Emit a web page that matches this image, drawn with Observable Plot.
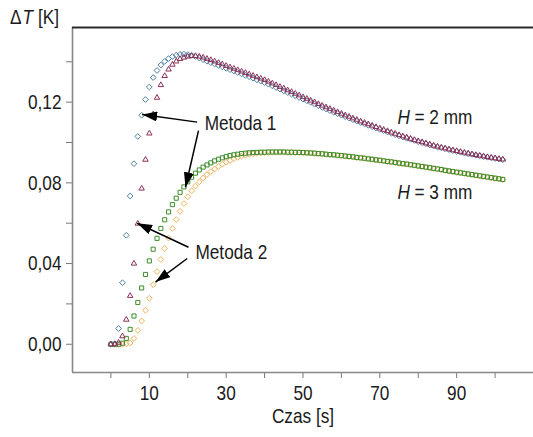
<!DOCTYPE html>
<html><head><meta charset="utf-8">
<script src="https://cdn.jsdelivr.net/npm/d3@7"></script>
<script src="https://cdn.jsdelivr.net/npm/@observablehq/plot@0.6"></script>
<style>body{margin:0;background:#fff;}</style>
</head><body><div id="chart"></div>
<script>
const time = [0,1,2,3,4,5,6,7,8,9,10,11,12,13,14,15,16,17,18,19,20,21,22,23,24,25,26,27,28,29,30,31,32,33,34,35,36,37,38,39,40,41,42,43,44,45,46,47,48,49,50,51,52,53,54,55,56,57,58,59,60,61,62,63,64,65,66,67,68,69,70,71,72,73,74,75,76,77,78,79,80,81,82,83,84,85,86,87,88,89,90,91,92,93,94,95,96,97,98,99,100,101,102];

// H = 2 mm, blue diamonds
const h2Diamond = [0,0.0003,0.0078,0.0305,0.0540,0.0735,0.0895,0.1030,0.1135,0.1213,0.1275,0.1322,0.1357,0.1384,0.1402,0.1416,0.1426,0.1433,0.1437,0.1438,0.1436,0.1432,0.1426,0.1419,0.1411,0.1403,0.1396,0.1389,0.1382,0.1375,0.1368,0.1361,0.1354,0.1347,0.1340,0.1333,0.1326,0.1319,0.1311,0.1304,0.1297,0.1289,0.1281,0.1272,0.1264,0.1256,0.1248,0.1240,0.1231,0.1223,0.1215,0.1207,0.1199,0.1190,0.1182,0.1174,0.1166,0.1158,0.1150,0.1143,0.1135,0.1128,0.1121,0.1113,0.1106,0.1099,0.1092,0.1085,0.1078,0.1072,0.1065,0.1059,0.1052,0.1046,0.1039,0.1033,0.1027,0.1021,0.1016,0.1010,0.1004,0.0999,0.0994,0.0988,0.0983,0.0978,0.0974,0.0969,0.0965,0.0960,0.0956,0.0952,0.0948,0.0944,0.0941,0.0937,0.0934,0.0930,0.0927,0.0924,0.0921,0.0918,0.0915];

// H = 2 mm, maroon triangles
const h2Triangle = [0,0,0.0008,0.0040,0.0122,0.0240,0.0400,0.0598,0.0772,0.0915,0.1045,0.1140,0.1222,0.1285,0.1330,0.1362,0.1386,0.1402,0.1414,0.1421,0.1426,0.1429,0.1429,0.1426,0.1421,0.1415,0.1409,0.1402,0.1395,0.1388,0.1380,0.1373,0.1366,0.1359,0.1352,0.1345,0.1338,0.1331,0.1324,0.1317,0.1310,0.1302,0.1293,0.1285,0.1276,0.1268,0.1259,0.1251,0.1242,0.1234,0.1225,0.1217,0.1208,0.1200,0.1191,0.1183,0.1175,0.1167,0.1159,0.1151,0.1143,0.1135,0.1128,0.1120,0.1113,0.1105,0.1098,0.1091,0.1084,0.1077,0.1070,0.1063,0.1057,0.1050,0.1044,0.1037,0.1031,0.1025,0.1019,0.1013,0.1007,0.1002,0.0996,0.0991,0.0985,0.0980,0.0975,0.0971,0.0966,0.0962,0.0958,0.0954,0.0950,0.0946,0.0942,0.0938,0.0935,0.0932,0.0928,0.0925,0.0922,0.0919,0.0916];

// H = 3 mm, green squares
const h3Square = [0,0,0,0.0005,0.0029,0.0074,0.0140,0.0207,0.0279,0.0346,0.0413,0.0471,0.0525,0.0574,0.0617,0.0656,0.0692,0.0724,0.0753,0.0780,0.0805,0.0828,0.0848,0.0864,0.0878,0.0889,0.0899,0.0909,0.0917,0.0924,0.0930,0.0935,0.0939,0.0942,0.0945,0.0947,0.0949,0.0950,0.0951,0.0952,0.0952,0.0953,0.0953,0.0953,0.0953,0.0953,0.0952,0.0952,0.0951,0.0951,0.0950,0.0949,0.0948,0.0947,0.0945,0.0944,0.0942,0.0940,0.0939,0.0937,0.0935,0.0933,0.0931,0.0929,0.0926,0.0924,0.0922,0.0919,0.0917,0.0914,0.0912,0.0909,0.0906,0.0904,0.0901,0.0898,0.0895,0.0893,0.0890,0.0887,0.0884,0.0881,0.0878,0.0875,0.0872,0.0869,0.0866,0.0862,0.0859,0.0856,0.0853,0.0850,0.0847,0.0844,0.0841,0.0838,0.0835,0.0832,0.0829,0.0826,0.0823,0.0820,0.0817];

// H = 3 mm, orange diamonds
const h3Diamond = [0,0,0,0,0.0002,0.0006,0.0029,0.0069,0.0115,0.0168,0.0228,0.0295,0.0360,0.0420,0.0475,0.0526,0.0574,0.0618,0.0659,0.0697,0.0731,0.0760,0.0784,0.0805,0.0824,0.0841,0.0856,0.0869,0.0881,0.0892,0.0902,0.0911,0.0919,0.0926,0.0932,0.0937,0.0941,0.0944,0.0946,0.0948,0.0949,0.0950,0.0951,0.0951,0.0952,0.0952,0.0951,0.0951,0.0950,0.0950,0.0949,0.0948,0.0947,0.0946,0.0944,0.0943,0.0941,0.0939,0.0938,0.0936,0.0934,0.0932,0.0930,0.0928,0.0925,0.0923,0.0921,0.0918,0.0916,0.0913,0.0911,0.0908,0.0905,0.0903,0.0900,0.0897,0.0894,0.0892,0.0889,0.0886,0.0883,0.0880,0.0877,0.0874,0.0871,0.0868,0.0865,0.0861,0.0858,0.0855,0.0852,0.0849,0.0846,0.0843,0.0840,0.0837,0.0834,0.0831,0.0828,0.0825,0.0822,0.0819,0.0816];

const xDomain = [-10, 110];
const yDomain = [-0.014, 0.157];
const xLabeledTicks = [10, 30, 50, 70, 90];
const xMinorTicks = [0, 20, 40, 60, 80, 100];
const yLabeledTicks = [0, 0.04, 0.08, 0.12];
const yTickLabels = ["0,00", "0,04", "0,08", "0,12"];
const yMinorTicks = [0.02, 0.06, 0.10, 0.14];
const xLabel = "Czas [s]";
const yLabelParts = [{text: "Δ", italic: false}, {text: "T", italic: true}, {text: "[K]", italic: false}];

const methodLabels = [
  {text: "Metoda 1", x: 24.4, y: 0.1093},
  {text: "Metoda 2", x: 22.0, y: 0.0458}
];
const heightLabels = [
  {h: "H", rest: "= 2 mm", x: 74.6, y: 0.1126},
  {h: "H", rest: "= 3 mm", x: 74.6, y: 0.0754}
];
const arrows = [
  {x1: 22.46, y1: 0.1101, x2: 8.14, y2: 0.1139},
  {x1: 22.8, y1: 0.1059, x2: 19.41, y2: 0.0778},
  {x1: 20.2, y1: 0.0481, x2: 6.84, y2: 0.0600},
  {x1: 19.86, y1: 0.0425, x2: 11.6, y2: 0.0308}
];

const series = [
  {values: h3Diamond, symbol: "diamond2", color: "#f0b35e"},
  {values: h3Square, symbol: "square2", color: "#3d8c2c"},
  {values: h2Diamond, symbol: "diamond2", color: "#4f7fa0"},
  {values: h2Triangle, symbol: "triangle2", color: "#8c2f57"}
];

const font = "'Liberation Sans', Arial, sans-serif";
const narrow = 0.82; // emulate a narrow (condensed) face

const chart = Plot.plot({
  width: 533,
  height: 437,
  marginLeft: 72,
  marginRight: 0,
  marginTop: 27,
  marginBottom: 65,
  x: {domain: xDomain},
  y: {domain: yDomain},
  style: {fontFamily: font, fontSize: "21px", background: "white", color: "#1a1a1a", overflow: "visible"},
  marks: [
    Plot.axisY({ticks: yLabeledTicks, tickSize: 6, tickPadding: 5, stroke: "#777", fill: "#1a1a1a",
      tickFormat: d => yTickLabels[yLabeledTicks.indexOf(d)], label: null}),
    Plot.axisY({ticks: yMinorTicks, tickSize: 6, stroke: "#777", tickFormat: () => "", label: null}),
    Plot.axisX({ticks: xLabeledTicks, tickSize: 6, tickPadding: 7, stroke: "#777", fill: "#1a1a1a", label: null}),
    Plot.axisX({ticks: xMinorTicks, tickSize: 6, stroke: "#777", tickFormat: () => "", label: null}),
    Plot.ruleX([xDomain[0]], {stroke: "#888", strokeWidth: 1.6}),
    Plot.ruleY([yDomain[0]], {stroke: "#888", strokeWidth: 1.6}),
    Plot.ruleY([yDomain[1]], {stroke: "#2a2a2a", strokeWidth: 2}),
    ...series.map(s => Plot.dot(time, {
      x: d => d, y: (d, i) => s.values[i], symbol: () => s.symbol,
      r: 2.6, stroke: s.color, strokeWidth: 1, fill: "none"
    })),
    Plot.link(arrows, {x1: "x1", y1: "y1", x2: "x2", y2: "y2", stroke: "#000", strokeWidth: 1.5}),
    Plot.text(methodLabels, {x: "x", y: "y", text: "text", textAnchor: "start", fill: "#1a1a1a"}),
    Plot.text(heightLabels, {x: "x", y: "y", text: "h", textAnchor: "start", fontStyle: "italic", fill: "#1a1a1a"}),
    Plot.text(heightLabels, {x: "x", y: "y", text: "rest", textAnchor: "start", dx: 17, fill: "#1a1a1a"}),
    Plot.text([xLabel], {frameAnchor: "bottom", text: d => d, dy: 50, fill: "#1a1a1a"})
  ]
});

document.getElementById("chart").appendChild(chart);

const svg = d3.select(chart);
const defs = svg.append("defs");
defs.append("marker").attr("id", "ah").attr("markerUnits", "userSpaceOnUse")
  .attr("markerWidth", 16).attr("markerHeight", 10).attr("refX", 15).attr("refY", 5)
  .attr("orient", "auto")
  .append("path").attr("d", "M0,0L15,5L0,10Z").attr("fill", "#000");
svg.selectAll('g[aria-label="link"] path').attr("marker-end", "url(#ah)");

// compress every text horizontally to match the narrow face of the reference
function compress(node) {
  const len = node.getComputedTextLength();
  if (len > 0) {
    node.setAttribute("textLength", (len * narrow).toFixed(2));
    node.setAttribute("lengthAdjust", "spacingAndGlyphs");
  }
  return len * narrow;
}
svg.selectAll("text").each(function() { compress(this); });

// y-axis title ΔT [K], as separate pieces laid out one after another
const titleGroup = svg.append("g").attr("font-family", font).attr("font-size", 21).attr("fill", "#1a1a1a");
let cursor = 10;
const gaps = [1, 5, 0];
yLabelParts.forEach((p, i) => {
  const node = titleGroup.append("text").attr("x", cursor).attr("y", 24).attr("text-anchor", "start")
    .attr("font-style", p.italic ? "italic" : "normal").text(p.text).node();
  cursor += compress(node) + gaps[i];
});
</script>
</body></html>
